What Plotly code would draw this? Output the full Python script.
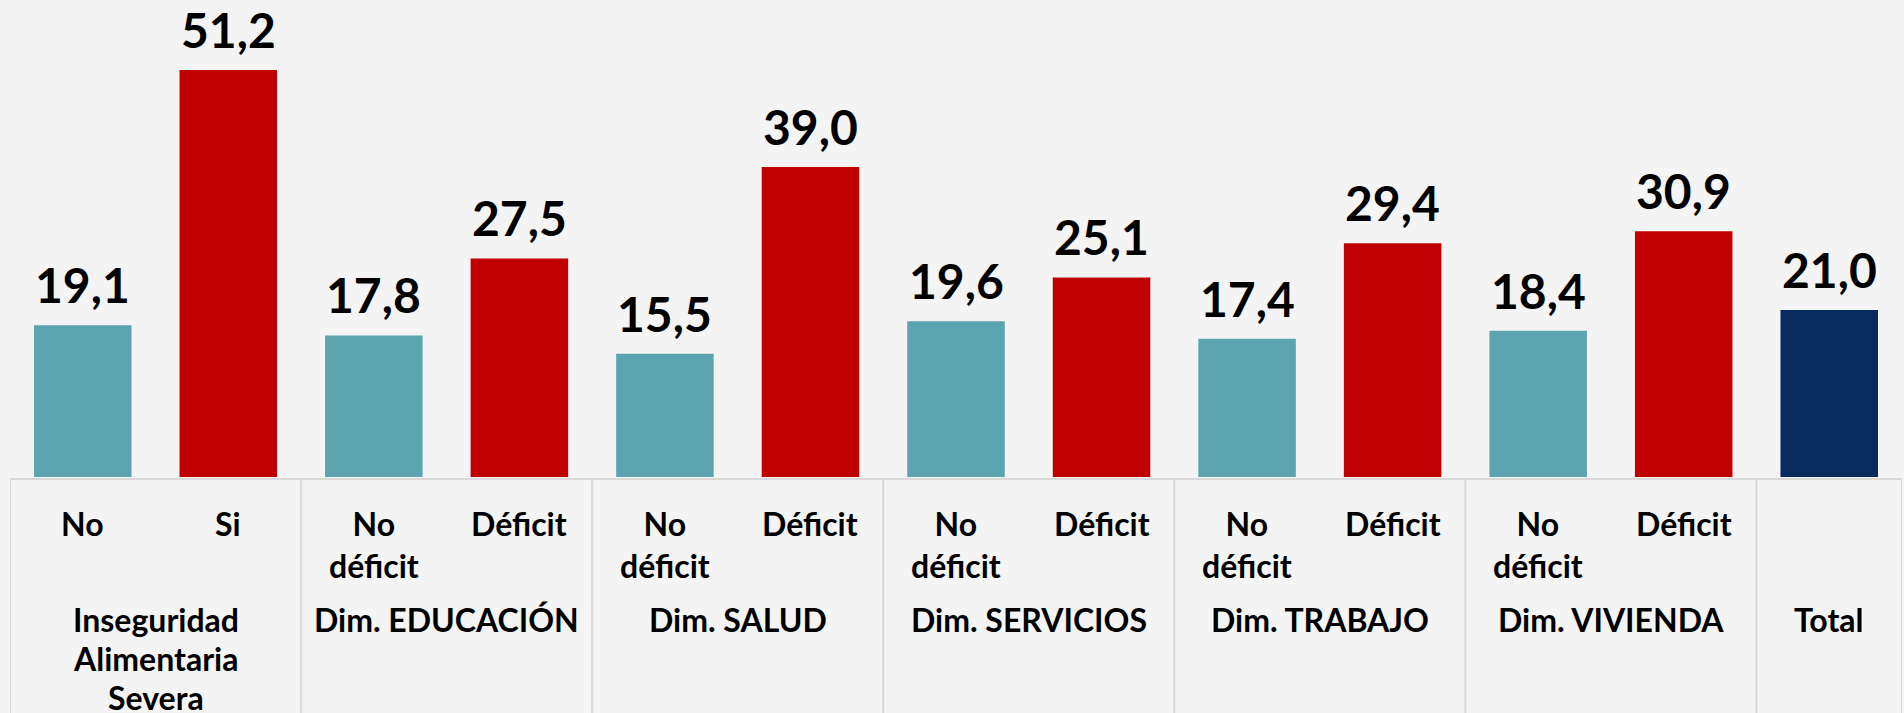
import plotly.graph_objects as go

# ---- data ----
sub_labels = ["No", "Si", "No<br>déficit", "Déficit", "No<br>déficit", "Déficit",
              "No<br>déficit", "Déficit", "No<br>déficit", "Déficit",
              "No<br>déficit", "Déficit", ""]
group_labels = [["Inseguridad", "Alimentaria", "Severa"], ["Dim. EDUCACIÓN"], ["Dim. SALUD"],
                ["Dim. SERVICIOS"], ["Dim. TRABAJO"], ["Dim. VIVIENDA"], ["Total"]]
group_sizes = [2, 2, 2, 2, 2, 2, 1]
values = [19.1, 51.2, 17.8, 27.5, 15.5, 39.0, 19.6, 25.1, 17.4, 29.4, 18.4, 30.9, 21.0]
kinds = ["no", "si", "no", "si", "no", "si", "no", "si", "no", "si", "no", "si", "total"]

color_map = {"no": "#5BA4B0", "si": "#C00000", "total": "#082A5E"}

W, H = 1904, 713
PLOT_BOTTOM = 477  # pixel y of baseline
ML, MR = 10, 2
FONT = "Lato"
GROUP_TOP = 598
GROUP_LINE = 39

def py2paper(py):
    return (PLOT_BOTTOM - py) / PLOT_BOTTOM

x = list(range(len(values)))
fig = go.Figure()
fig.add_trace(go.Bar(
    x=x, y=values,
    marker=dict(color=[color_map[k] for k in kinds], line=dict(width=0)),
    width=0.67,
    hoverinfo="skip",
))

annotations = []
# value labels
for i, v in enumerate(values):
    annotations.append(dict(
        x=i, y=v, xref="x", yref="y", yanchor="bottom", xanchor="center",
        text=f"{v:.1f}".replace(".", ","), showarrow=False, yshift=10,
        font=dict(family=FONT, size=48, color="#000000", weight=700),
    ))
# sub labels
for i, t in enumerate(sub_labels):
    if not t:
        continue
    annotations.append(dict(
        x=i, y=py2paper(502), xref="x", yref="paper", yanchor="top", xanchor="center",
        text=t, showarrow=False,
        font=dict(family=FONT, size=32, color="#000000", weight=700),
    ))
# group labels
start = 0
shapes = []
line_style = dict(color="#D9D9D9", width=2)
shapes.append(dict(type="line", xref="x", yref="paper", x0=-0.5, x1=len(values) - 0.5,
                   y0=py2paper(479), y1=py2paper(479), line=line_style))
shapes.append(dict(type="line", xref="x", yref="paper", x0=-0.5, x1=-0.5,
                   y0=py2paper(479), y1=py2paper(H + 5), line=line_style))
for lines, n in zip(group_labels, group_sizes):
    center = start + (n - 1) / 2
    for k, ln in enumerate(lines):
        annotations.append(dict(
            x=center, y=py2paper(GROUP_TOP + k * GROUP_LINE), xref="x", yref="paper",
            yanchor="top", xanchor="center",
            text=ln, showarrow=False,
            font=dict(family=FONT, size=32, color="#000000", weight=700),
        ))
    end = start + n - 0.5
    shapes.append(dict(type="line", xref="x", yref="paper", x0=end, x1=end,
                       y0=py2paper(479), y1=py2paper(H + 5), line=line_style))
    start += n

fig.update_layout(
    width=W, height=H,
    margin=dict(l=ML, r=MR, t=0, b=H - PLOT_BOTTOM, pad=0),
    paper_bgcolor="#F4F4F4", plot_bgcolor="#F4F4F4",
    showlegend=False,
    bargap=0.33,
    xaxis=dict(range=[-0.5, len(values) - 0.5], showticklabels=False, showgrid=False,
               zeroline=False, showline=False, ticks=""),
    yaxis=dict(range=[0, 60], visible=False, showgrid=False, zeroline=False),
    annotations=annotations,
    shapes=shapes,
)

fig.write_html("out.html", config={"displayModeBar": False},
               post_script="document.body.style.margin='0';document.body.style.background='#F4F4F4';")
